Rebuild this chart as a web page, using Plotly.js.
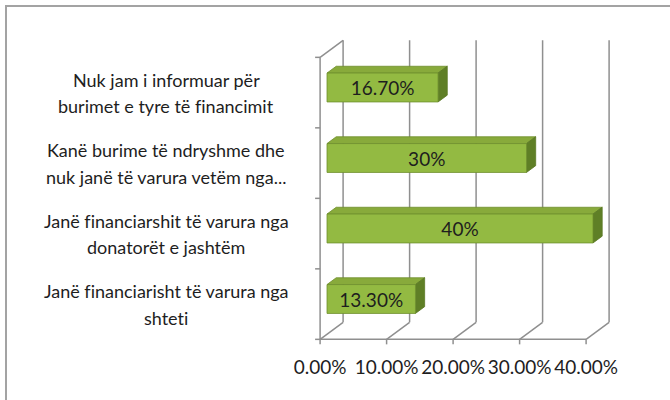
<!DOCTYPE html>
<html><head><meta charset="utf-8">
<script src="https://cdn.plot.ly/plotly-3.0.1.min.js"></script>
<style>html,body{margin:0;padding:0;background:#fff}#chart{width:670px;height:400px}
svg text{font-variant-ligatures:none !important;font-feature-settings:"liga" 0,"clig" 0 !important}</style>
</head><body><div id="chart"></div>
<script>
// ---- data (bottom to top) ----
const categories = [
  "Janë financiarisht të varura nga<br>shteti",
  "Janë financiarshit të varura nga<br>donatorët e jashtëm",
  "Kanë burime të ndryshme dhe<br>nuk janë të varura vetëm nga...",
  "Nuk jam i informuar për<br>burimet e tyre të financimit"
];
const values = [13.3, 40, 30, 16.7];
const valueLabels = ["13.30%", "40%", "30%", "16.70%"];
const xTicks = [0, 10, 20, 30, 40];
const xTickLabels = ["0.00%", "10.00%", "20.00%", "30.00%", "40.00%"];

// ---- layout geometry ----
const W = 670, H = 400;
const M = {l: 300, r: 50, t: 30, b: 50};
const plotW = W - M.l - M.r, plotH = H - M.t - M.b;
const xRange = [-4.0602, 44.0602];
const yRange = [-0.7234, 3.8156];
const sx = plotW / (xRange[1] - xRange[0]);
const sy = plotH / (yRange[1] - yRange[0]);
const ox = p => p / sx, oy = p => p / sy;
// 3D depth offsets in pixels (right +, up +) relative to the bar front plane
const FRONT = {dx: -6.9, dy: -5.1}, BACK = {dx: 16.1, dy: 11.9}, BARD = {dx: 9.2, dy: 6.8};
const barW = 0.41;
const FONT = "Lato, 'Open Sans', sans-serif";
const TXT = '#1e1e1e';

const shapes = [];
const frameLine = {color: '#8f8f8f', width: 1.5};
function seg(x0, y0, x1, y1) {
  shapes.push({type: 'line', xref: 'x', yref: 'y', layer: 'below', x0, y0, x1, y1, line: frameLine});
}
const yLo = -0.5, yHi = categories.length - 0.5;
const xMax = xTicks[xTicks.length - 1];
const fx = ox(FRONT.dx), fy = oy(FRONT.dy), bx = ox(BACK.dx), by = oy(BACK.dy);

seg(fx, yLo + fy, xMax + fx, yLo + fy);            // floor front edge
xTicks.forEach(v => {
  seg(v + fx, yLo + fy, v + bx, yLo + by);         // floor diagonal
  seg(v + bx, yLo + by, v + bx, yHi + by);         // back wall grid line
  seg(v + fx, yLo + fy, v + fx, yLo + fy - oy(5)); // tick mark
});
seg(fx, yLo + fy, fx, yHi + fy);                   // left wall edge
seg(fx, yHi + fy, bx, yHi + by);                   // left wall top
for (let k = 0; k <= categories.length; k++) {
  const yb = k - 0.5 + fy;
  seg(fx - ox(5), yb, fx, yb);
}

// bar top and side faces
const bdx = ox(BARD.dx), bdy = oy(BARD.dy);
values.forEach((v, i) => {
  const t = i + barW / 2, b = i - barW / 2;
  shapes.push({type: 'path', xref: 'x', yref: 'y', layer: 'below',
    fillcolor: '#88aa3b', line: {color: '#6e8e2c', width: 0.8},
    path: `M0,${t} L${v},${t} L${v + bdx},${t + bdy} L${bdx},${t + bdy} Z`});
  shapes.push({type: 'path', xref: 'x', yref: 'y', layer: 'below',
    fillcolor: '#5f7f26', line: {color: '#5a7824', width: 0.8},
    path: `M${v},${b} L${v},${t} L${v + bdx},${t + bdy} L${v + bdx},${b + bdy} Z`});
});

// outer border
const px2paperX = p => (p - M.l) / plotW;
const px2paperY = p => (M.t + plotH - p) / plotH;
shapes.push({type: 'rect', xref: 'paper', yref: 'paper', layer: 'above',
  x0: px2paperX(6), x1: px2paperX(W + 10), y0: px2paperY(H + 10), y1: px2paperY(6),
  line: {color: '#a3a3a3', width: 2}, fillcolor: 'rgba(0,0,0,0)'});

// category labels (centered lines)
const annotations = [];
const LABEL_X = px2paperX(166), LINE = 26.5, LABEL_SHIFT = -5.5;
categories.forEach((c, i) => {
  const lines = c.split('<br>');
  const n = lines.length;
  lines.forEach((ln, j) => {
    annotations.push({xref: 'paper', yref: 'y', x: LABEL_X, y: i, text: ln, showarrow: false,
      xanchor: 'center', yanchor: 'middle', yshift: LABEL_SHIFT + (n - 1) / 2 * LINE - j * LINE,
      font: {family: FONT, size: 18, color: TXT}});
  });
});

const trace = {
  type: 'bar', orientation: 'h', x: values, y: categories, width: barW,
  marker: {color: '#93ba42', line: {color: '#6f8f2e', width: 0.8}},
  text: valueLabels, textposition: 'inside', insidetextanchor: 'middle', textangle: 0,
  constraintext: 'none', textfont: {family: FONT, size: 19, color: TXT},
  hoverinfo: 'none'
};
// empty trace that only makes the front-floor label axis exist
const axisHolder = {type: 'scatter', mode: 'markers', x: [], y: [], xaxis: 'x2', yaxis: 'y',
  hoverinfo: 'skip', showlegend: false};

const layout = {
  width: W, height: H, margin: M, showlegend: false,
  paper_bgcolor: '#fff', plot_bgcolor: 'rgba(0,0,0,0)',
  font: {family: FONT, color: TXT},
  xaxis: {range: xRange, showticklabels: false, ticks: '',
    showgrid: false, zeroline: false, showline: false},
  // front-floor axis carrying the tick labels (same scale, shifted by the front depth)
  xaxis2: {overlaying: 'x', anchor: 'y', side: 'bottom',
    range: [xRange[0] - fx, xRange[1] - fx], tickvals: xTicks, ticktext: xTickLabels, ticks: '',
    showgrid: false, zeroline: false, showline: false, ticklabelstandoff: 4,
    tickfont: {family: FONT, size: 19, color: TXT}},
  yaxis: {type: 'category', categoryorder: 'array', categoryarray: categories, range: yRange,
    showticklabels: false, ticks: '', showgrid: false, zeroline: false, showline: false},
  shapes, annotations
};
Plotly.newPlot('chart', [trace, axisHolder], layout, {staticPlot: true, displayModeBar: false});
</script></body></html>
